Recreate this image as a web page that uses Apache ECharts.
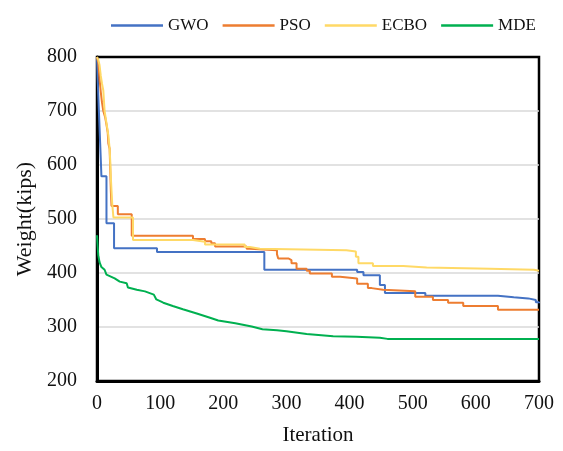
<!DOCTYPE html>
<html>
<head>
<meta charset="utf-8">
<script src="https://cdn.jsdelivr.net/npm/echarts@6/dist/echarts.min.js"></script>
<style>
html,body{margin:0;padding:0;background:#fff;}
#chart{width:563px;height:451px;}
</style>
</head>
<body>
<div id="chart"></div>
<script>
var seriesNames = ['GWO', 'PSO', 'ECBO', 'MDE'];
var xTicks = [0, 100, 200, 300, 400, 500, 600, 700];
var yTicks = [200, 300, 400, 500, 600, 700, 800];

// [iteration, weight] at each change (step curves)
var gwo = [[0,800],[1,760],[2,730],[3,700],[4,670],[5,640],[6,610],[7,579],[15,492],[27,446],[95,439],[265,406],[412,402],[422,396],[448,378],[456,363],[520,358],[635,355],[660,353],[683,350],[695,346],[700,344]];
var pso = [[0,800],[2,790],[4,760],[6,735],[8,715],[10,700],[13,688],[15,675],[17,660],[18,640],[20,630],[21,590],[22,550],[23,524],[33,509],[55,469],[152,463],[171,459],[181,455],[187,449],[237,445],[242,442],[285,435],[287,427],[303,424],[308,418],[316,408],[332,404],[337,399],[372,393],[385,390],[412,380],[429,372],[435,369],[453,366],[504,356],[532,350],[556,345],[580,339],[635,332],[700,331]];
var ecbo = [[0,800],[2,795],[4,785],[6,765],[8,750],[10,738],[12,700],[14,685],[16,670],[18,655],[20,630],[21,607],[22,575],[23,552],[24,530],[26,503],[57,461],[152,458],[171,453],[234,448],[242,445],[258,442],[395,440],[410,430],[414,418],[437,413],[485,410],[522,408],[622,406],[692,404],[700,403]];
var mde = [[0,470],[1,450],[2,433],[4,420],[7,411],[12,406],[15,397],[28,390],[36,384],[47,381],[49,373],[63,369],[76,366],[90,360],[94,351],[105,345],[120,339],[136,333],[158,325],[179,317],[192,312],[219,307],[245,301],[262,296],[285,294],[300,292],[332,287],[374,283],[411,282],[448,280],[460,278],[700,278]];

var colors = ['#4472C4', '#ED7D31', '#FFD966', '#00B050'];
var font = 'Liberation Serif';

var chart = echarts.init(document.getElementById('chart'), null, {renderer: 'canvas'});
function mk(name, data, color, step) {
  return {
    name: name, type: 'line', data: data, step: step,
    showSymbol: false, symbol: 'none',
    lineStyle: {color: color, width: 2},
    itemStyle: {color: color},
    animation: false
  };
}
chart.setOption({
  animation: false,
  backgroundColor: '#fff',
  legend: {
    top: 12, left: 106,
    icon: 'rect', itemWidth: 52, itemHeight: 2.5, itemGap: 14,
    textStyle: {fontFamily: font, fontSize: 17, color: '#111'},
    data: seriesNames
  },
  grid: {
    left: 97, right: 24, top: 57, bottom: 65,
    show: true, borderColor: '#000', borderWidth: 2.5, backgroundColor: 'transparent'
  },
  xAxis: {
    type: 'value', min: xTicks[0], max: xTicks[xTicks.length - 1], interval: 100,
    name: 'Iteration', nameLocation: 'middle', nameGap: 44,
    nameTextStyle: {fontFamily: font, fontSize: 21, color: '#111'},
    axisLine: {show: true, lineStyle: {color: '#000', width: 3}}, axisTick: {show: false}, splitLine: {show: false},
    axisLabel: {fontFamily: font, fontSize: 20, color: '#111', margin: 13}
  },
  yAxis: {
    type: 'value', min: yTicks[0], max: yTicks[yTicks.length - 1], interval: 100,
    name: 'Weight(kips)', nameLocation: 'middle', nameGap: 59,
    nameTextStyle: {fontFamily: font, fontSize: 22, color: '#111'},
    axisLine: {show: true, lineStyle: {color: '#000', width: 3}}, axisTick: {show: false},
    splitLine: {show: true, showMinLine: false, showMaxLine: false, lineStyle: {color: '#d9d9d9', width: 1.5}},
    axisLabel: {fontFamily: font, fontSize: 20, color: '#111', margin: 20}
  },
  series: [
    mk('GWO', gwo, colors[0], 'end'),
    mk('PSO', pso, colors[1], 'end'),
    mk('ECBO', ecbo, colors[2], 'end'),
    mk('MDE', mde, colors[3], false)
  ]
});
</script>
</body>
</html>
